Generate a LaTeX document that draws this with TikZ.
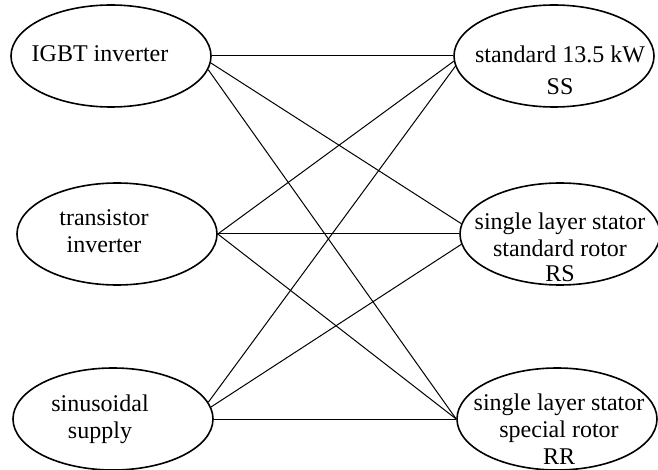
\documentclass[tikz,border=0pt]{standalone}
\usepackage{fontspec}
\setmainfont{Liberation Serif}
\usetikzlibrary{shapes}

\begin{document}
\begin{tikzpicture}[x=1pt,y=-1pt,
    blob/.style={ellipse,draw,line width=1.6pt,minimum width=200pt,minimum height=102pt,inner sep=0pt},
    lbl/.style={align=center,inner sep=0pt,font=\fontsize{24}{27}\selectfont},
    wire/.style={line width=1pt}]
    \useasboundingbox (0,0) rectangle (658,470);

    % Supplies on the left:
    \node [blob] (igbt)  at (111,56)  {};
    \node [blob] (trans) at (117,234) {};
    \node [blob] (sinus) at (113,419) {};
    \node [lbl] (igbt text)  at (100,54)  {IGBT inverter};
    \node [lbl] (trans text) at (104,231) {transistor\\inverter};
    \node [lbl] (sinus text) at (100,419) {sinusoidal\\supply};

    % Machines on the right:
    \node [blob] (ss) at (554,56)  {};
    \node [blob] (rs) at (560,234) {};
    \node [blob] (rr) at (557,419) {};
    \node [lbl] (ss text) at (560,70)  {standard 13.5 kW\\[5pt]SS};
    \node [lbl] (rs text) at (560,247) {single layer stator\\standard rotor\\[-2pt]RS};
    \node [lbl] (rr text) at (559,429) {single layer stator\\special rotor\\RR};

    % Every supply is joined to every machine:
    \draw [wire] (igbt.east) -- (ss.west);
    \draw [wire] (igbt.-4)   -- (rs.174);
    \draw [wire] (igbt.-8)   -- (rr.west);
    \draw [wire] (trans.east) -- (ss.183);
    \draw [wire] (trans.east) -- (rs.west);
    \draw [wire] (trans.east) -- (rr.west);
    \draw [wire] (sinus.10)  -- (ss.186);
    \draw [wire] (sinus.7)   -- (rs.186);
    \draw [wire] (sinus.east) -- (rr.west);
\end{tikzpicture}
\end{document}
